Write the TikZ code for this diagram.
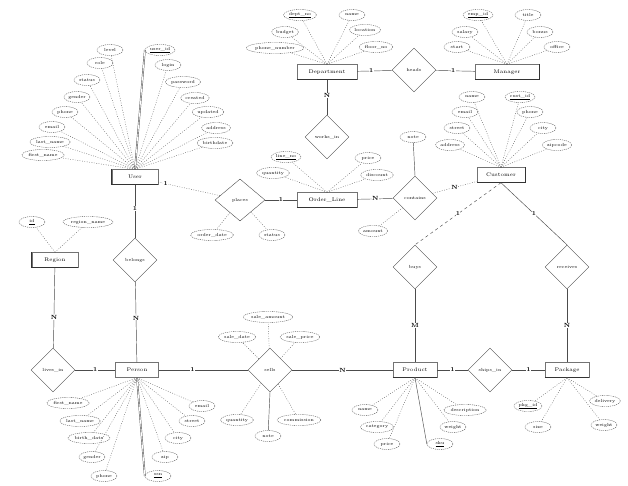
\documentclass[tikz,border=0pt]{standalone}
\usetikzlibrary{shapes.geometric}
\newcommand\fa{\fontsize{4.4}{5}\selectfont}
\newcommand\fe{\fontsize{5.2}{6}\selectfont}
\newcommand\fc{\fontsize{6}{6}\selectfont\bfseries}
\begin{document}
\begin{tikzpicture}[x=1pt,y=-1pt,
  ent/.style={draw=black!55,line width=0.45pt,minimum width=46pt,minimum height=15pt,inner sep=1pt,font=\fe},
  rel/.style={draw=black!70,line width=0.4pt,diamond,aspect=1,minimum width=44pt,minimum height=44pt,inner sep=0pt,font=\fa},
  attr/.style={draw=black!70,dash pattern=on 1.2pt off 0.9pt,line width=0.35pt,ellipse,minimum height=11pt,minimum width=26pt,inner xsep=0.5pt,inner ysep=0pt,font=\fa},
  al/.style={draw=black!65,line width=0.4pt,dash pattern=on 0.8pt off 1.6pt},
  sl/.style={draw=black!70,line width=0.45pt},
  rl/.style={draw=black!70,line width=0.45pt},
  thk/.style={draw=black!80,line width=1.1pt},
  card/.style={font=\fc,fill=white,inner sep=0.4pt}]
\useasboundingbox (0,0) rectangle (628,486);
% entities
\node[ent] (user) at (135,177) {User};
\node[ent,minimum width=60pt] (dept) at (327,72) {Department};
\node[ent,minimum width=64pt] (mgr) at (507,72) {Manager};
\node[ent,minimum width=60pt] (ol) at (327,200) {Order\_Line};
\node[ent,minimum width=48pt] (cust) at (501,175) {Customer};
\node[ent] (reg) at (55,260) {Region};
\node[ent,minimum width=43pt] (pers) at (137,370) {Person};
\node[ent,minimum width=44pt] (prod) at (415,370) {Product};
\node[ent,minimum width=44pt] (pkg) at (567,370) {Package};
% emphasised entity borders
\draw[thk] (user.north west) |- (user.south east);
\draw[thk] (reg.north west) |- (reg.south east);
\draw[thk] (mgr.north east) |- (mgr.south west);
\draw[thk] (cust.north east) |- (cust.south west);
\draw[thk,line width=0.8pt] (dept.south west) -- (dept.south east);
\draw[thk,line width=0.8pt] (ol.south west) -- (ol.south east);
\draw[thk,line width=0.8pt] (prod.south west) -- (prod.south east);
\draw[thk,line width=0.8pt] (pkg.south west) -- (pkg.south east);
% relationships
\node[rel] (heads) at (414,70) {heads};
\node[rel] (works) at (327,137) {works\_in};
\node[rel,minimum width=50pt,minimum height=42pt] (places) at (240,200) {places};
\node[rel] (contains) at (415,198) {contains};
\node[rel] (isa) at (135,260) {belongs};
\node[rel] (buys) at (415,267) {buys};
\node[rel] (recv) at (567,267) {receives};
\node[rel] (lives) at (53,370) {lives\_in};
\node[rel] (sells) at (270,370) {sells};
\node[rel] (ships) at (490,370) {ships\_in};
% relationship connectors
\draw[rl] (dept) -- node[card,pos=0.4]{1} (heads);
\draw[rl] (heads) -- node[card,pos=0.45]{1} (mgr);
\draw[rl] (dept) -- node[card,pos=0.45]{N} (works);
\draw[al] (user) -- node[card,pos=0.12]{1} (places);
\draw[rl] (places) -- node[card]{1} (ol);
\draw[rl] (ol) -- node[card]{N} (contains);
\draw[al] (contains) -- node[card]{N} (cust);
\draw[rl,dashed] (cust.south) -- node[card]{1} (buys.north);
\draw[rl] (cust.south) -- node[card]{1} (recv.north);
\draw[rl] (buys) -- node[card]{M} (prod);
\draw[rl] (recv) -- node[card]{N} (pkg);
\draw[rl] (user) -- node[card,pos=0.45]{1} (isa);
\draw[rl] (isa) -- node[card,pos=0.45]{N} (pers);
\draw[rl] (reg) -- node[card,pos=0.62]{N} (lives);
\draw[rl] (lives) -- node[card]{1} (pers);
\draw[rl] (pers) -- node[card,pos=0.38]{1} (sells);
\draw[rl] (sells) -- node[card]{N} (prod);
\draw[rl] (prod) -- node[card]{1} (ships);
\draw[rl] (ships) -- node[card]{1} (pkg);
% User attributes
\foreach \n/\x/\y/\lab in {1/110/50/level, 2/100/63/role, 3/87/80/status, 4/77/97/gender, 5/65/112/phone, 6/52/127/email, 7/50/142/last\_name, 8/43/155/first\_name,
  10/168/65/login, 11/183/82/password, 12/195/98/created, 13/208/112/updated, 14/216/128/address, 15/215/143/birthdate}
  {\node[attr] (u\n) at (\x,\y) {\lab}; \draw[al] (user.north) -- (u\n);}
\node[attr] (u9) at (160,50) {\underline{user\_id}};
\draw[sl,double,double distance=0.8pt] (user.north) -- (u9.west);
% Department attributes
\node[attr] (d1) at (300,15) {\underline{dept\_no}};
\foreach \n/\x/\y/\lab in {2/352/15/name, 3/285/32/budget, 4/365/30/location, 5/275/48/phone\_number, 6/376/47/floor\_no}
  {\node[attr] (d\n) at (\x,\y) {\lab}; \draw[al] (dept.north) -- (d\n);}
\draw[al] (dept.north) -- (d1);
% Manager attributes
\node[attr] (m1) at (478,15) {\underline{emp\_id}};
\foreach \n/\x/\y/\lab in {2/528/15/title, 3/465/32/salary, 4/540/32/bonus, 5/457/47/start, 6/557/47/office}
  {\node[attr] (m\n) at (\x,\y) {\lab}; \draw[al] (mgr.north) -- (m\n);}
\draw[al] (mgr.north) -- (m1);
% Customer attributes
\node[attr] (c2) at (520,97) {\underline{cust\_id}};
\foreach \n/\x/\y/\lab in {1/472/97/name, 3/465/112/email, 4/530/112/phone, 5/457/128/street, 6/543/128/city, 7/450/145/address, 8/557/145/zipcode}
  {\node[attr] (c\n) at (\x,\y) {\lab}; \draw[al] (cust.north) -- (c\n);}
\draw[al] (cust.north) -- (c2);
% Order line attributes
\node[attr] (o1) at (286,157) {\underline{line\_no}};
\foreach \n/\x/\y/\lab in {2/273/173/quantity, 3/368/158/price, 4/377/175/discount}
  {\node[attr] (o\n) at (\x,\y) {\lab}; \draw[al] (ol.north) -- (o\n);}
\draw[al] (ol.north) -- (o1);
% relationship attributes
\node[attr] (p1) at (212,235) {order\_date};
\node[attr] (p2) at (272,235) {status};
\draw[al] (places) -- (p1);
\draw[al] (places) -- (p2);
\node[attr] (k1) at (373,231) {amount};
\node[attr] (k2) at (413,137) {note};
\draw[al] (contains) -- (k1);
\draw[sl] (contains.north) -- (k2);
% Region attributes
\node[attr] (r1) at (32,222) {\underline{id}};
\node[attr] (r2) at (88,222) {region\_name};
\draw[al] (reg.north) -- (r1);
\draw[al] (reg.north) -- (r2);
% Person attributes
\foreach \n/\x/\y/\lab in {1/68/403/first\_name, 2/80/421/last\_name, 3/89/438/birth\_date, 4/92/457/gender, 5/104/476/phone,
  6/202/406/email, 7/192/421/street, 8/178/438/city, 9/165/457/zip}
  {\node[attr] (h\n) at (\x,\y) {\lab}; \draw[al] (pers.south) -- (h\n);}
\node[attr] (h10) at (158,476) {\underline{ssn}};
\draw[sl,double,double distance=0.8pt] (pers.south) -- (h10.west);
% sells attributes
\foreach \n/\x/\y/\lab in {1/268/317/sale\_amount, 2/237/337/sale\_date, 3/300/337/sale\_price, 4/237/420/quantity, 5/299/420/commission}
  {\node[attr] (s\n) at (\x,\y) {\lab}; \draw[al] (sells) -- (s\n);}
\node[attr] (s6) at (268,436) {note};
\draw[sl] (sells.south) -- (s6);
% Product attributes
\foreach \n/\x/\y/\lab in {1/365/410/name, 2/377/427/category, 3/387/444/price, 5/453/427/weight, 6/465/410/description}
  {\node[attr] (q\n) at (\x,\y) {\lab}; \draw[al] (prod.south) -- (q\n);}
\node[attr] (q4) at (440,444) {\underline{sku}};
\draw[sl] (prod.south) -- (q4.west);
% Package attributes
\node[attr] (g1) at (528,406) {\underline{pkg\_id}};
\foreach \n/\x/\y/\lab in {2/538/427/size, 3/605/401/delivery, 4/604/425/weight}
  {\node[attr] (g\n) at (\x,\y) {\lab}; \draw[al] (pkg.south) -- (g\n);}
\draw[al] (pkg.south) -- (g1);
\end{tikzpicture}
\end{document}
